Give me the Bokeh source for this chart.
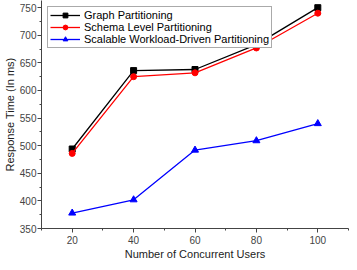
from bokeh.plotting import figure
from bokeh.models import Range1d, SingleIntervalTicker, Legend, LegendItem
from bokeh.embed import file_html
from bokeh.resources import INLINE

users = [20, 40, 60, 80, 100]
graph = [494, 636, 638, 683, 750]
schema = [486, 625, 632, 677, 740]
scalable = [378, 402, 492, 509, 540]

names = ["Graph Partitioning", "Schema Level Partitioning", "Scalable Workload-Driven Partitioning"]
colors = ["#000000", "#ff0000", "#0000ff"]

FONT = "Liberation Sans"

p = figure(width=349, height=262, output_backend="svg", toolbar_location=None,
           x_range=Range1d(10, 110), y_range=Range1d(350, 763),
           min_border_left=0, min_border_right=1, min_border_top=0, min_border_bottom=0)
p.outline_line_color = None
p.xgrid.visible = False
p.ygrid.visible = False

p.xaxis.ticker = SingleIntervalTicker(interval=20, num_minor_ticks=2)
p.yaxis.ticker = SingleIntervalTicker(interval=50, num_minor_ticks=2)
for ax in (p.xaxis[0], p.yaxis[0]):
    ax.axis_line_color = "#444444"
    ax.major_tick_line_color = "#444444"
    ax.minor_tick_line_color = "#444444"
    ax.major_tick_in = 0
    ax.major_tick_out = 4
    ax.minor_tick_in = 0
    ax.minor_tick_out = 2
    ax.major_label_text_font = FONT
    ax.major_label_text_font_size = "10px"
    ax.major_label_text_color = "#444444"
    ax.axis_label_text_font = FONT
    ax.axis_label_text_font_size = "11px"
    ax.axis_label_text_font_style = "normal"
    ax.axis_label_text_color = "#222222"
p.xaxis.axis_label = "Number of Concurrent Users"
p.yaxis.axis_label = "Response Time (In ms)"
p.xaxis.major_label_standoff = 3
p.xaxis.axis_label_standoff = 1
p.yaxis.major_label_standoff = 1
p.yaxis.axis_label_standoff = 1

l1 = p.line(users, graph, color=colors[0], line_width=1.3)
m1 = p.scatter(users, graph, marker="square", size=6, color=colors[0])
l2 = p.line(users, schema, color=colors[1], line_width=1.3)
m2 = p.scatter(users, schema, marker="circle", size=6, color=colors[1])
l3 = p.line(users, scalable, color=colors[2], line_width=1.3)
m3 = p.scatter(users, scalable, marker="triangle", size=7, color=colors[2])

legend = Legend(items=[LegendItem(label=names[0], renderers=[l1, m1]),
                       LegendItem(label=names[1], renderers=[l2, m2]),
                       LegendItem(label=names[2], renderers=[l3, m3])],
                location="top_left")
legend.border_line_color = "#555555"
legend.border_line_width = 1
legend.background_fill_alpha = 1
legend.label_text_font = FONT
legend.label_text_font_size = "11px"
legend.label_text_color = "#000000"
legend.glyph_width = 30
legend.glyph_height = 12
legend.label_height = 12
legend.spacing = 0
legend.padding = 2
legend.margin = 6
legend.label_standoff = 4
p.add_layout(legend)

open("out.html", "w").write(file_html(p, INLINE))
